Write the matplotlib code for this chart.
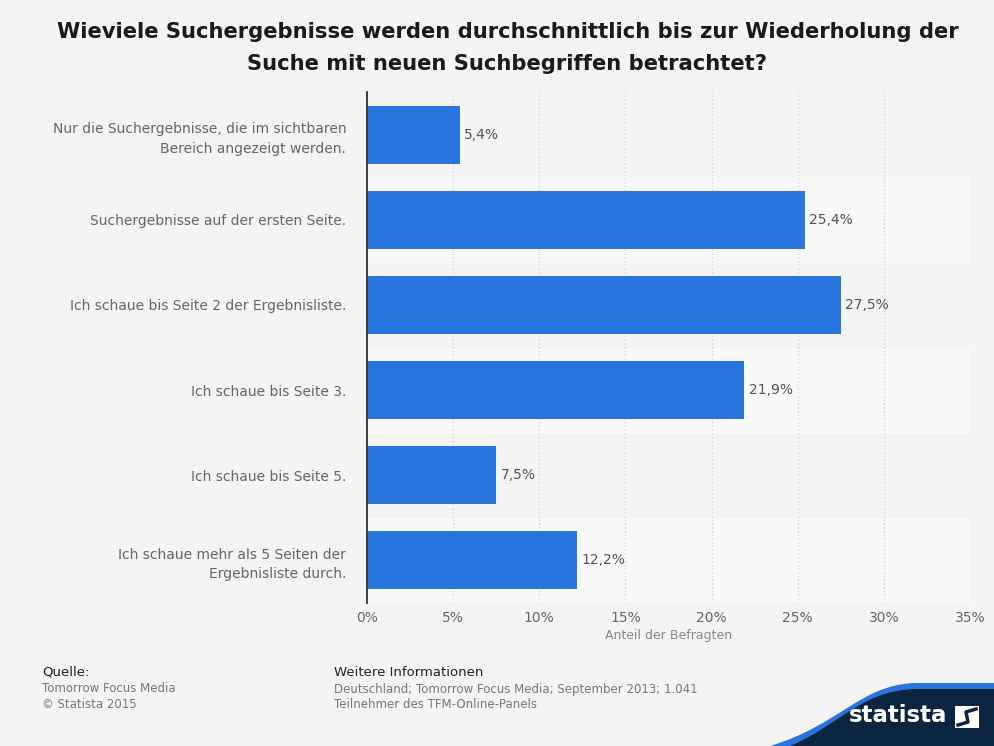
import matplotlib.pyplot as plt
import matplotlib.patches as mpatches
from matplotlib.path import Path
import numpy as np

# --- Data ---#
categories = [
    "Nur die Suchergebnisse, die im sichtbaren\nBereich angezeigt werden.",
    "Suchergebnisse auf der ersten Seite.",
    "Ich schaue bis Seite 2 der Ergebnisliste.",
    "Ich schaue bis Seite 3.",
    "Ich schaue bis Seite 5.",
    "Ich schaue mehr als 5 Seiten der\nErgebnisliste durch.",
]
values = [5.4, 25.4, 27.5, 21.9, 7.5, 12.2]
xticks = [0, 5, 10, 15, 20, 25, 30, 35]

bg = "#f4f4f4"
barColor = "#2876dd"
navy = "#0b2540"

fig = plt.figure(figsize=(9.95, 7.46), dpi=100, facecolor=bg)
W, H = 995, 746
ax = fig.add_axes([367 / W, 1 - 603 / H, (970 - 367) / W, (603 - 92) / H])
ax.set_facecolor(bg)

y = np.arange(len(values))
# alternating row bands
for i in y:
    if i % 2 == 1:
        ax.axhspan(i - 0.5, i + 0.5, color="#f9f9f9", zorder=0)

ax.barh(y, values, height=0.68, color=barColor, zorder=3)
for i, v in zip(y, values):
    ax.text(v + 0.25, i, f"{v:.1f}%".replace(".", ","), va="center", ha="left",
            fontsize=10, color="#555555", zorder=4)

ax.set_ylim(len(values) - 0.5, -0.5)
ax.set_xlim(0, 35)
ax.set_yticks(y)
ax.set_yticklabels(categories, fontsize=10, color="#666666", linespacing=1.5)
ax.set_xticks(xticks)
ax.set_xticklabels([f"{t}%" for t in xticks], fontsize=10, color="#666666")
ax.tick_params(axis="both", length=0)
ax.tick_params(axis="x", pad=6)
ax.tick_params(axis="y", pad=15)
ax.set_xlabel("Anteil der Befragten", fontsize=9, color="#888888", labelpad=3)

ax.xaxis.grid(True, linestyle=(0, (1, 2)), color="#d0d0d0", linewidth=0.9, zorder=1)
ax.set_axisbelow(True)
for s in ["top", "right", "bottom"]:
    ax.spines[s].set_visible(False)
ax.spines["left"].set_color("#333333")
ax.spines["left"].set_linewidth(1.3)
ax.spines["left"].set_zorder(5)

# ----- Title ------#
fig.text(0.51, 1 - 32 / H, "Wieviele Suchergebnisse werden durchschnittlich bis zur Wiederholung der",
         ha="center", va="center", fontsize=15.2, fontweight="bold", color="#1a1a1a")
fig.text(0.51, 1 - 64 / H, "Suche mit neuen Suchbegriffen betrachtet?",
         ha="center", va="center", fontsize=15.2, fontweight="bold", color="#1a1a1a")

# ----- Footer ------#
fig.text(42 / W, 1 - 672 / H, "Quelle:", fontsize=9.5, color="#222222", va="center")
fig.text(42 / W, 1 - 689 / H, "Tomorrow Focus Media", fontsize=8.5, color="#777777", va="center")
fig.text(42 / W, 1 - 705 / H, "© Statista 2015", fontsize=8.5, color="#777777", va="center")
fig.text(334 / W, 1 - 672 / H, "Weitere Informationen", fontsize=9.5, color="#222222", va="center")
fig.text(334 / W, 1 - 689 / H, "Deutschland; Tomorrow Focus Media; September 2013; 1.041",
         fontsize=8.5, color="#777777", va="center")
fig.text(334 / W, 1 - 705 / H, "Teilnehmer des TFM-Online-Panels",
         fontsize=8.5, color="#777777", va="center")

# swoosh in bottom right corner
def swoosh(x0, top, col):
    pts = [(x0, 746), (840, 725), (860, top + 2), (915, top), (995, top), (995, 746), (x0, 746)]
    codes = [Path.MOVETO, Path.CURVE4, Path.CURVE4, Path.CURVE4, Path.LINETO, Path.LINETO, Path.CLOSEPOLY]
    pts = [(px / W, 1 - py / H) for px, py in pts]
    return mpatches.PathPatch(Path(pts, codes), facecolor=col, edgecolor="none",
                              transform=fig.transFigure)

fig.patches.append(swoosh(770, 683, barColor))
fig.patches.append(swoosh(790, 689, navy))
fig.text(898 / W, 1 - 716 / H, "statista", fontsize=16.5, fontweight="bold", color="white",
         ha="center", va="center")
# logo icon
fig.patches.append(mpatches.Rectangle((955 / W, 1 - 728 / H), 24 / W, 22 / H,
                                      facecolor="white", edgecolor="none", transform=fig.transFigure))
icon = [(958, 725), (968, 722), (966, 712), (976, 709)]
fig.lines.append(plt.Line2D([p[0] / W for p in icon], [1 - p[1] / H for p in icon],
                            color=navy, linewidth=2.5, transform=fig.transFigure))

plt.savefig("out.png", dpi=100, facecolor=bg)
